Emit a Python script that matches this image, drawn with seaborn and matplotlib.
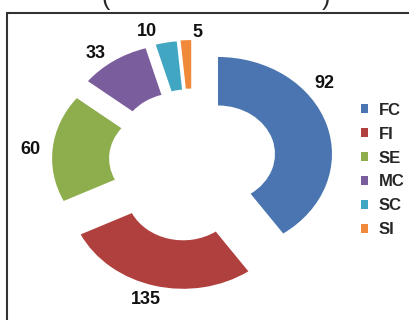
import matplotlib
matplotlib.use("Agg")
import matplotlib.pyplot as plt
import seaborn as sns
import numpy as np
from matplotlib.patches import Rectangle

groups = ["FC", "FI", "SE", "MC", "SC", "SI"]
value_labels = ["92", "135", "60", "33", "10", "5"]
# wedge sizes as drawn in the source image (FC/FI arcs there match 135/92)
arc_sizes = [135, 92, 60, 33, 10, 5]

colors = ["#4A75B0", "#B0403E", "#8EAD4C", "#7A5D9C", "#41A6C2", "#F08A3A"]

sns.set_theme(style="white")
plt.rcParams["font.family"] = ["Liberation Sans", "DejaVu Sans"]

fig = plt.figure(figsize=(4.09, 3.2), dpi=100)
ax = fig.add_axes([0.0247, 0.0125, 0.892, 0.97])

wedges, _ = ax.pie(arc_sizes, colors=colors, startangle=90, counterclock=False,
                   explode=[0.234, 0.33, 0.233, 0.24, 0.24, 0.245],
                   wedgeprops=dict(width=0.5, linewidth=0))
ax.set_aspect("auto")
ax.set_xlim(-1.6, 1.6)
ax.set_ylim(-1.6, 1.6)

# where along each arc the value label sits (0 = clockwise start) and how far out
label_pos = [0.36, 0.52, 0.47, 0.38, -0.19, 1.5]
label_dist = [1.18, 1.16, 1.19, 1.155, 1.15, 1.08]
for w, txt, f, d in zip(wedges, value_labels, label_pos, label_dist):
    ang = np.deg2rad(w.theta2 - f * (w.theta2 - w.theta1))
    cx, cy = w.center
    ax.text(cx + d * np.cos(ang), cy + d * np.sin(ang), txt,
            ha="center", va="center", fontsize=13, fontweight="bold", color="#111111")

ax.legend(wedges, groups, loc="center left", bbox_to_anchor=(0.862, 0.469),
          bbox_transform=fig.transFigure, frameon=False, borderpad=0,
          handlelength=0.45, handleheight=0.45, handletextpad=0.6,
          labelspacing=0.53, prop=dict(size=12, weight="bold"))

# frame of the original figure, cut off on the right and bottom
fig.patches.append(Rectangle((7 / 409, -0.1), 1.2, 1 - 13 / 320 + 0.1,
                             transform=fig.transFigure, fill=False,
                             edgecolor="#333333", linewidth=1.5))

# parentheses of a caption cut off above the image
fig.text(106 / 409, 1 - 10 / 320, "(", ha="center", va="bottom", fontsize=18)
fig.text(326 / 409, 1 - 10 / 320, ")", ha="center", va="bottom", fontsize=18)

fig.savefig("out.png", dpi=100)
